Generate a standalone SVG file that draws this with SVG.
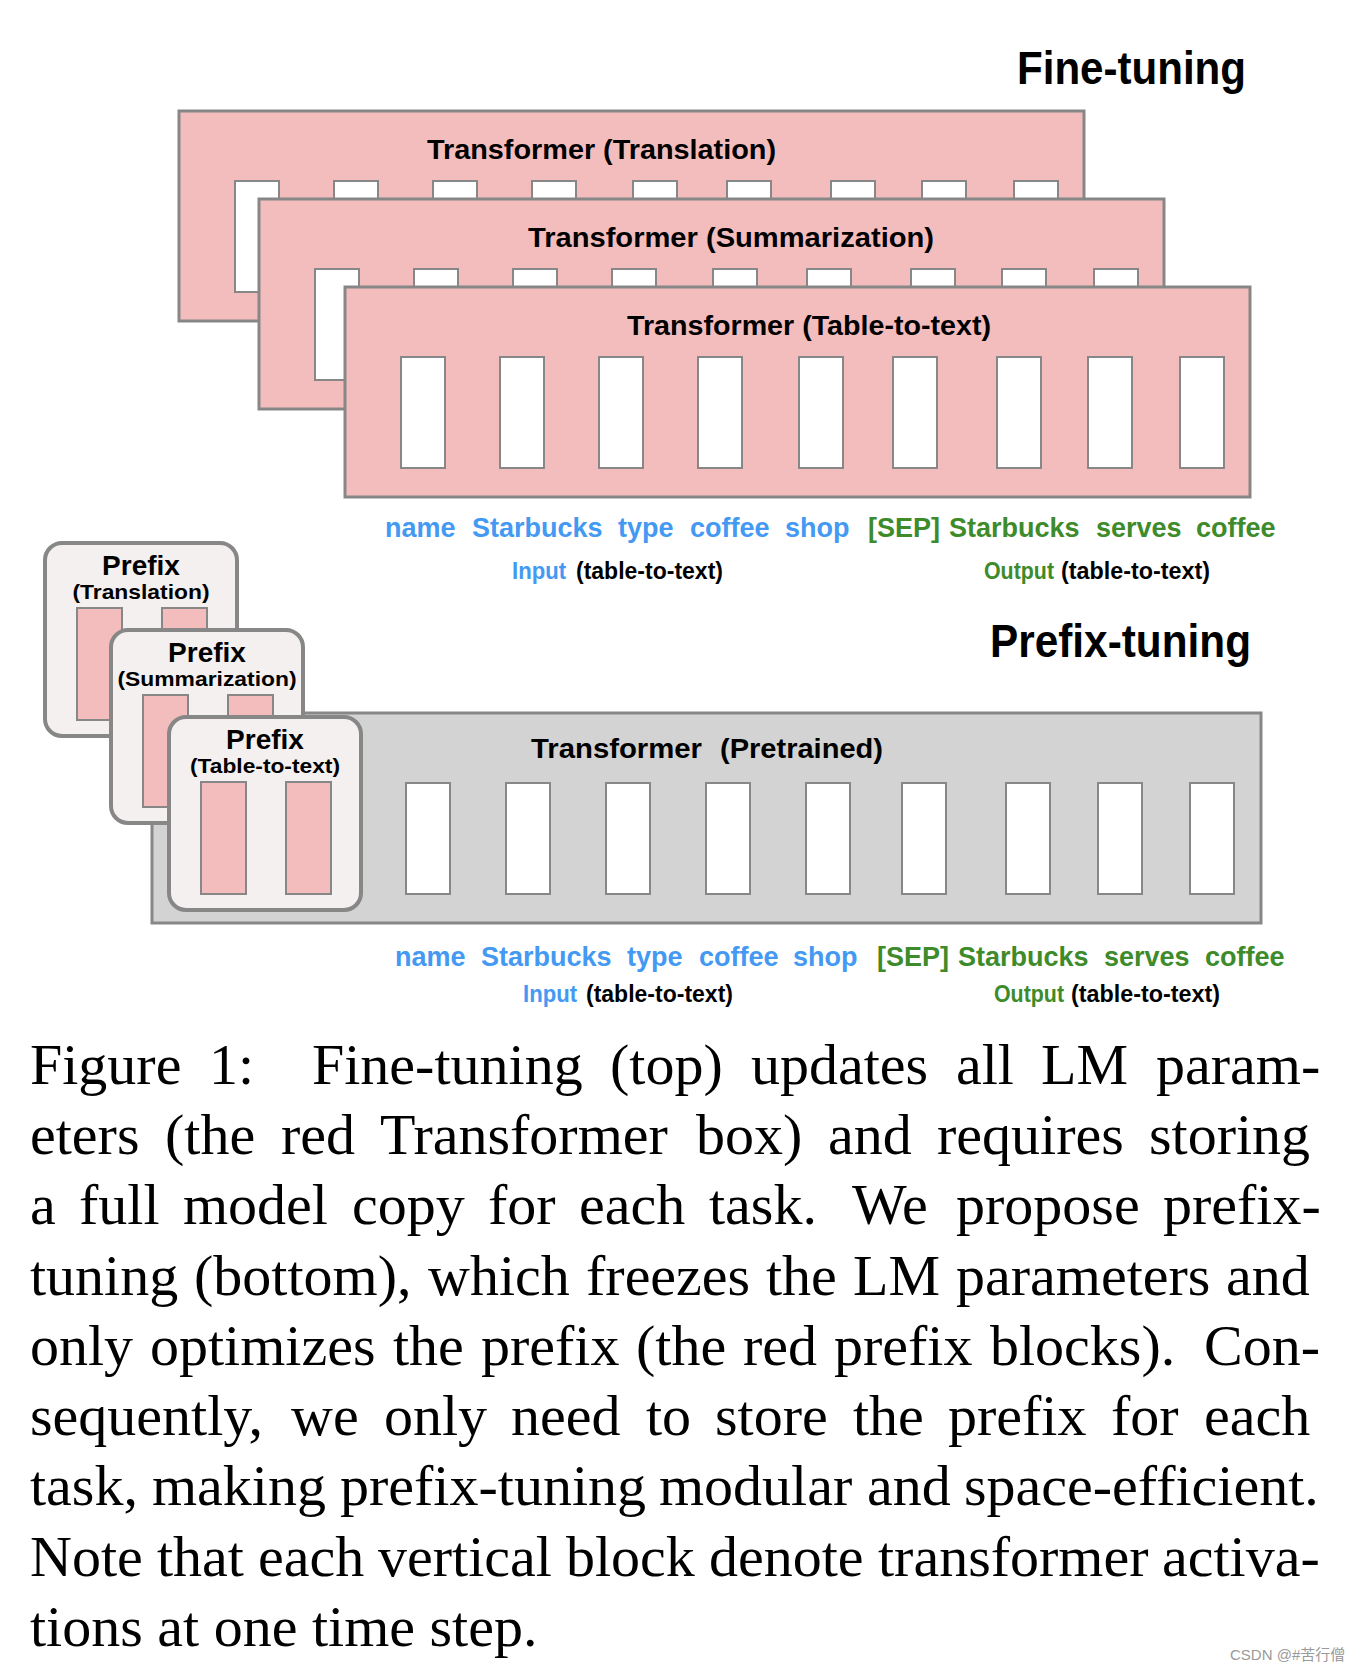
<svg xmlns="http://www.w3.org/2000/svg" width="1362" height="1670" viewBox="0 0 1362 1670">
<style>
.b{font-family:"Liberation Sans",Arial,sans-serif;font-weight:bold;fill:#000}
.big{font-size:46px}
.ttl{font-size:28px}
.w{font-size:27px}
.s{font-size:23px}
.pf{font-size:28px;text-anchor:middle}
.pfs{font-size:21px;text-anchor:middle}
.blue{fill:#4499f2}
.green{fill:#3d8b2a}
.redbox{fill:#f3bdbd;stroke:#878787;stroke-width:3}
.greybox{fill:#d3d3d3;stroke:#878787;stroke-width:3}
.bar{fill:#fff;stroke:#878787;stroke-width:2}
.pbox{fill:#f3f0ef;stroke:#878787;stroke-width:4}
.pbar{fill:#f3bdbd;stroke:#878787;stroke-width:2}
.cap{font-family:"Liberation Serif","Times New Roman",serif;font-size:58px;fill:#000}
.wm{font-family:"Liberation Sans","Noto Sans CJK SC",sans-serif;font-size:15px;fill:#9a9a9a}
</style>
<defs>
<g id="bars">
<rect class="bar" x="56" y="70" width="44" height="111"/>
<rect class="bar" x="155" y="70" width="44" height="111"/>
<rect class="bar" x="254" y="70" width="44" height="111"/>
<rect class="bar" x="353" y="70" width="44" height="111"/>
<rect class="bar" x="454" y="70" width="44" height="111"/>
<rect class="bar" x="548" y="70" width="44" height="111"/>
<rect class="bar" x="652" y="70" width="44" height="111"/>
<rect class="bar" x="743" y="70" width="44" height="111"/>
<rect class="bar" x="835" y="70" width="44" height="111"/>
</g>
<g id="pbars">
<rect class="pbar" x="32" y="65" width="45" height="112"/>
<rect class="pbar" x="117" y="65" width="45" height="112"/>
</g>
</defs>
<rect width="1362" height="1670" fill="#fff"/>

<text class="b big" x="1017" y="84" textLength="229" lengthAdjust="spacingAndGlyphs">Fine-tuning</text>

<g id="ft-translation">
<rect class="redbox" x="179" y="111" width="905" height="210"/>
<use href="#bars" x="179" y="111"/>
<text class="b ttl" x="427" y="159" textLength="349" lengthAdjust="spacingAndGlyphs">Transformer (Translation)</text>
</g>
<g id="ft-summarization">
<rect class="redbox" x="259" y="199" width="905" height="210"/>
<use href="#bars" x="259" y="199"/>
<text class="b ttl" x="528" y="247" textLength="406" lengthAdjust="spacingAndGlyphs">Transformer (Summarization)</text>
</g>
<g id="ft-table">
<rect class="redbox" x="345" y="287" width="905" height="210"/>
<use href="#bars" x="345" y="287"/>
<text class="b ttl" x="627" y="335" textLength="364" lengthAdjust="spacingAndGlyphs">Transformer (Table-to-text)</text>
</g>

<g id="ft-tokens">
<text class="b w blue" y="537"><tspan x="385">name</tspan><tspan x="472">Starbucks</tspan><tspan x="618">type</tspan><tspan x="690">coffee</tspan><tspan x="785">shop</tspan></text>
<text class="b w green" y="537"><tspan x="868">[SEP]</tspan><tspan x="949">Starbucks</tspan><tspan x="1096">serves</tspan><tspan x="1196">coffee</tspan></text>
<text class="b s blue" x="512" y="579" textLength="54" lengthAdjust="spacingAndGlyphs">Input</text>
<text class="b s" x="576" y="579" textLength="147" lengthAdjust="spacingAndGlyphs">(table-to-text)</text>
<text class="b s green" x="984" y="579" textLength="70" lengthAdjust="spacingAndGlyphs">Output</text>
<text class="b s" x="1061" y="579" textLength="149" lengthAdjust="spacingAndGlyphs">(table-to-text)</text>
</g>

<text class="b big" x="990" y="657" textLength="261" lengthAdjust="spacingAndGlyphs">Prefix-tuning</text>

<g id="pt-pretrained">
<rect class="greybox" x="152" y="713" width="1109" height="210"/>
<rect class="bar" x="406" y="783" width="44" height="111"/>
<rect class="bar" x="506" y="783" width="44" height="111"/>
<rect class="bar" x="606" y="783" width="44" height="111"/>
<rect class="bar" x="706" y="783" width="44" height="111"/>
<rect class="bar" x="806" y="783" width="44" height="111"/>
<rect class="bar" x="902" y="783" width="44" height="111"/>
<rect class="bar" x="1006" y="783" width="44" height="111"/>
<rect class="bar" x="1098" y="783" width="44" height="111"/>
<rect class="bar" x="1190" y="783" width="44" height="111"/>
<text class="b ttl" x="531" y="758" textLength="171" lengthAdjust="spacingAndGlyphs">Transformer</text>
<text class="b ttl" x="720" y="758" textLength="163" lengthAdjust="spacingAndGlyphs">(Pretrained)</text>
</g>

<g id="prefix-translation">
<rect class="pbox" x="45" y="543" width="192" height="193" rx="17"/>
<use href="#pbars" x="45" y="543"/>
<text class="b pf" x="141" y="575">Prefix</text>
<text class="b pfs" x="141" y="599" textLength="137" lengthAdjust="spacingAndGlyphs">(Translation)</text>
</g>
<g id="prefix-summarization">
<rect class="pbox" x="111" y="630" width="192" height="193" rx="17"/>
<use href="#pbars" x="111" y="630"/>
<text class="b pf" x="207" y="662">Prefix</text>
<text class="b pfs" x="207" y="686" textLength="179" lengthAdjust="spacingAndGlyphs">(Summarization)</text>
</g>
<g id="prefix-table">
<rect class="pbox" x="169" y="717" width="192" height="193" rx="17"/>
<use href="#pbars" x="169" y="717"/>
<text class="b pf" x="265" y="749">Prefix</text>
<text class="b pfs" x="265" y="773" textLength="150" lengthAdjust="spacingAndGlyphs">(Table-to-text)</text>
</g>

<g id="pt-tokens">
<text class="b w blue" y="966"><tspan x="395">name</tspan><tspan x="481">Starbucks</tspan><tspan x="627">type</tspan><tspan x="699">coffee</tspan><tspan x="793">shop</tspan></text>
<text class="b w green" y="966"><tspan x="877">[SEP]</tspan><tspan x="958">Starbucks</tspan><tspan x="1104">serves</tspan><tspan x="1205">coffee</tspan></text>
<text class="b s blue" x="523" y="1002" textLength="54" lengthAdjust="spacingAndGlyphs">Input</text>
<text class="b s" x="586" y="1002" textLength="147" lengthAdjust="spacingAndGlyphs">(table-to-text)</text>
<text class="b s green" x="994" y="1002" textLength="70" lengthAdjust="spacingAndGlyphs">Output</text>
<text class="b s" x="1071" y="1002" textLength="149" lengthAdjust="spacingAndGlyphs">(table-to-text)</text>
</g>

<g id="caption" class="cap">
<text y="1084"><tspan x="30">Figure</tspan><tspan x="209">1:</tspan><tspan x="312">Fine-tuning</tspan><tspan x="610">(top)</tspan><tspan x="751">updates</tspan><tspan x="956">all</tspan><tspan x="1041">LM</tspan><tspan x="1156">param-</tspan></text>
<text y="1154"><tspan x="30">eters</tspan><tspan x="165">(the</tspan><tspan x="281">red</tspan><tspan x="380">Transformer</tspan><tspan x="696">box)</tspan><tspan x="828">and</tspan><tspan x="937">requires</tspan><tspan x="1149">storing</tspan></text>
<text y="1224"><tspan x="30">a</tspan><tspan x="79">full</tspan><tspan x="183">model</tspan><tspan x="352">copy</tspan><tspan x="488">for</tspan><tspan x="579">each</tspan><tspan x="709">task.</tspan><tspan x="852">We</tspan><tspan x="956">propose</tspan><tspan x="1163">prefix-</tspan></text>
<text y="1295"><tspan x="30">tuning</tspan><tspan x="194">(bottom),</tspan><tspan x="428">which</tspan><tspan x="586">freezes</tspan><tspan x="766">the</tspan><tspan x="853">LM</tspan><tspan x="956">parameters</tspan><tspan x="1226">and</tspan></text>
<text y="1365"><tspan x="30">only</tspan><tspan x="150">optimizes</tspan><tspan x="393">the</tspan><tspan x="481">prefix</tspan><tspan x="636">(the</tspan><tspan x="743">red</tspan><tspan x="834">prefix</tspan><tspan x="990">blocks).</tspan><tspan x="1204">Con-</tspan></text>
<text y="1435"><tspan x="30">sequently,</tspan><tspan x="291">we</tspan><tspan x="384">only</tspan><tspan x="511">need</tspan><tspan x="646">to</tspan><tspan x="715">store</tspan><tspan x="853">the</tspan><tspan x="948">prefix</tspan><tspan x="1111">for</tspan><tspan x="1204">each</tspan></text>
<text y="1505"><tspan x="30">task,</tspan><tspan x="152">making</tspan><tspan x="340">prefix-tuning</tspan><tspan x="659">modular</tspan><tspan x="867">and</tspan><tspan x="964">space-efficient.</tspan></text>
<text y="1576"><tspan x="30">Note</tspan><tspan x="157">that</tspan><tspan x="258">each</tspan><tspan x="378">vertical</tspan><tspan x="566">block</tspan><tspan x="709">denote</tspan><tspan x="878">transformer</tspan><tspan x="1162">activa-</tspan></text>
<text x="30" y="1646">tions at one time step.</text>
</g>

<text class="wm" x="1230" y="1660">CSDN @#苦行僧</text>
</svg>
